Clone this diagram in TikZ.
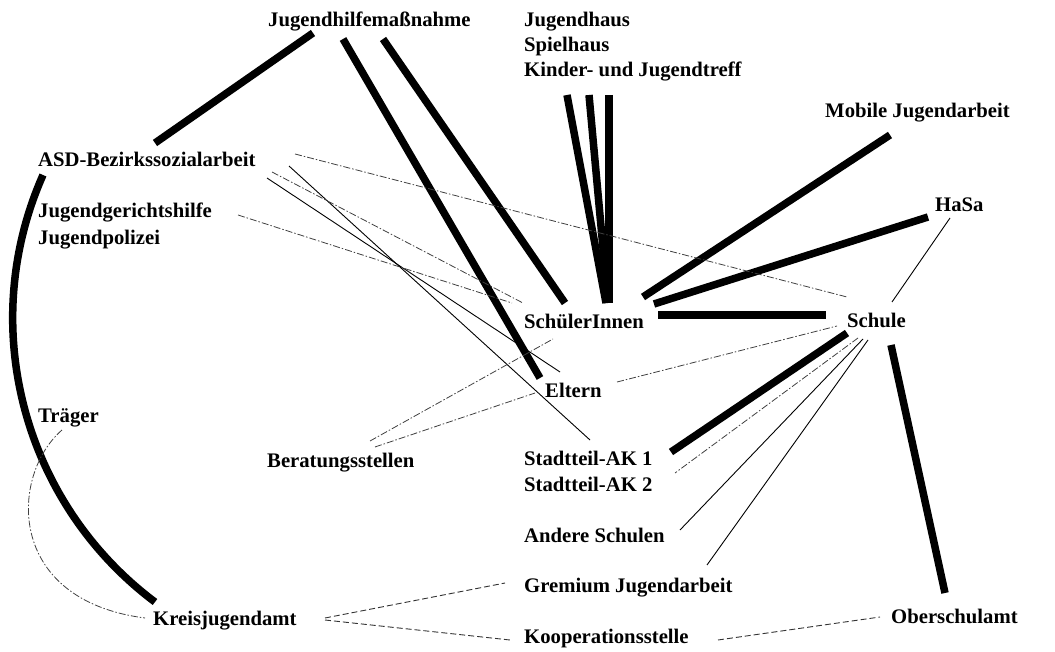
\documentclass[tikz,border=0pt]{standalone}
\usepackage{fontspec}
\setmainfont{Liberation Serif}
\usepackage{tikz}

\tikzset{
    lbl/.style={anchor=base west, inner sep=0pt,
        font=\bfseries\fontsize{20.7}{25}\selectfont},
    strong/.style={line width=7.5pt},
    plain/.style={line width=0.9pt},
    loose/.style={line width=0.8pt, black!75,
        dash pattern=on 7pt off 2pt on 1.5pt off 2pt},
    dashedlink/.style={line width=0.9pt, black!80,
        dash pattern=on 6pt off 3pt},
}

\begin{document}
\begin{tikzpicture}[x=1pt, y=-1pt]
    \useasboundingbox (0,0) rectangle (1055,652);

    % labels
    \node[lbl] (jhm) at (268,27) {Jugendhilfemaßnahme};
    \node[lbl] (jhaus) at (524,27) {Jugendhaus};
    \node[lbl] (spiel) at (524,52) {Spielhaus};
    \node[lbl] (treff) at (524,77) {Kinder- und Jugendtreff};
    \node[lbl] (mobil) at (825,118) {Mobile Jugendarbeit};
    \node[lbl] (hasa) at (935,212) {HaSa};
    \node[lbl] (asd) at (38,167) {ASD-Bezirkssozialarbeit};
    \node[lbl] (jgh) at (38,218) {Jugendgerichtshilfe};
    \node[lbl] (jpol) at (38,245) {Jugendpolizei};
    \node[lbl] (schueler) at (524,329) {SchülerInnen};
    \node[lbl] (schule) at (847,328) {Schule};
    \node[lbl] (eltern) at (545,397) {Eltern};
    \node[lbl] (traeger) at (38,422) {Träger};
    \node[lbl] (beratung) at (267,467) {Beratungsstellen};
    \node[lbl] (ak1) at (524,465) {Stadtteil-AK 1};
    \node[lbl] (ak2) at (524,491) {Stadtteil-AK 2};
    \node[lbl] (andere) at (524,542) {Andere Schulen};
    \node[lbl] (gremium) at (524,592) {Gremium Jugendarbeit};
    \node[lbl] (kreis) at (153,625) {Kreisjugendamt};
    \node[lbl] (koop) at (524,643) {Kooperationsstelle};
    \node[lbl] (ober) at (891,623) {Oberschulamt};

    % strong links
    \draw[strong]
        ([shift={(45,6)}]jhm.base west)
        -- ([shift={(117,-24)}]asd.base west);
    \draw[strong]
        ([shift={(75,12)}]jhm.base west)
        -- ([shift={(-5,-19)}]eltern.base west);
    \draw[strong]
        ([shift={(115,12)}]jhm.base west)
        -- ([shift={(41,-26)}]schueler.base west);
    \draw[strong]
        ([shift={(43,18)}]treff.base west)
        -- ([shift={(82,-26)}]schueler.base west);
    \draw[strong]
        ([shift={(65,18)}]treff.base west)
        -- ([shift={(84,-26)}]schueler.base west);
    \draw[strong]
        ([shift={(85,18)}]treff.base west)
        -- ([shift={(85,-26)}]schueler.base west);
    \draw[strong]
        ([shift={(119,-32)}]schueler.base west)
        -- ([shift={(65,17)}]mobil.base west);
    \draw[strong]
        ([shift={(130,-25)}]schueler.base west)
        -- ([shift={(-7,5)}]hasa.base west);
    \draw[strong]
        ([shift={(134,-14)}]schueler.base west)
        -- ([shift={(-21,-13)}]schule.base west);
    \draw[strong]
        ([shift={(0,5)}]schule.base west)
        -- ([shift={(147,-13)}]ak1.base west);
    \draw[strong]
        ([shift={(44,17)}]schule.base west)
        -- ([shift={(54,-30)}]ober.base west);
    \draw[strong]
        ([shift={(5,8)}]asd.base west)
        .. controls +(-67,151) and +(-132,-99)
        .. ([shift={(2,-23)}]kreis.base west);

    % thin links
    \draw[plain]
        ([shift={(251,-1)}]asd.base west)
        -- ([shift={(66,-25)}]ak1.base west);
    \draw[plain]
        ([shift={(229,11)}]asd.base west)
        -- ([shift={(15,-25)}]eltern.base west);
    \draw[plain]
        ([shift={(15,6)}]hasa.base west)
        -- ([shift={(45,-26)}]schule.base west);
    \draw[plain]
        ([shift={(16,11)}]schule.base west)
        -- ([shift={(156,-12)}]andere.base west);
    \draw[plain]
        ([shift={(21,12)}]schule.base west)
        -- ([shift={(183,-27)}]gremium.base west);

    % loose links
    \draw[loose]
        ([shift={(24,8)}]traeger.base west)
        .. controls +(-52,45) and +(-140,-18)
        .. ([shift={(-8,-7)}]kreis.base west);
    \draw[loose]
        ([shift={(257,-13)}]asd.base west)
        -- ([shift={(0,-31)}]schule.base west);
    \draw[loose]
        ([shift={(234,5)}]asd.base west)
        -- ([shift={(-1,-26)}]schueler.base west);
    \draw[loose]
        ([shift={(200,-3)}]jgh.base west)
        -- ([shift={(-12,-26)}]schueler.base west);
    \draw[loose]
        ([shift={(103,-26)}]beratung.base west)
        -- ([shift={(29,10)}]schueler.base west);
    \draw[loose]
        ([shift={(108,-20)}]beratung.base west)
        -- ([shift={(-10,-4)}]eltern.base west);
    \draw[loose]
        ([shift={(72,-15)}]eltern.base west)
        -- ([shift={(-10,-2)}]schule.base west);
    \draw[loose]
        ([shift={(11,10)}]schule.base west)
        -- ([shift={(151,-18)}]ak2.base west);

    % dashed links
    \draw[dashedlink]
        ([shift={(172,-7)}]kreis.base west)
        -- ([shift={(-19,-9)}]gremium.base west);
    \draw[dashedlink]
        ([shift={(172,-5)}]kreis.base west)
        -- ([shift={(-14,-3)}]koop.base west);
    \draw[dashedlink]
        ([shift={(194,-3)}]koop.base west)
        -- ([shift={(-11,-6)}]ober.base west);
\end{tikzpicture}
\end{document}
